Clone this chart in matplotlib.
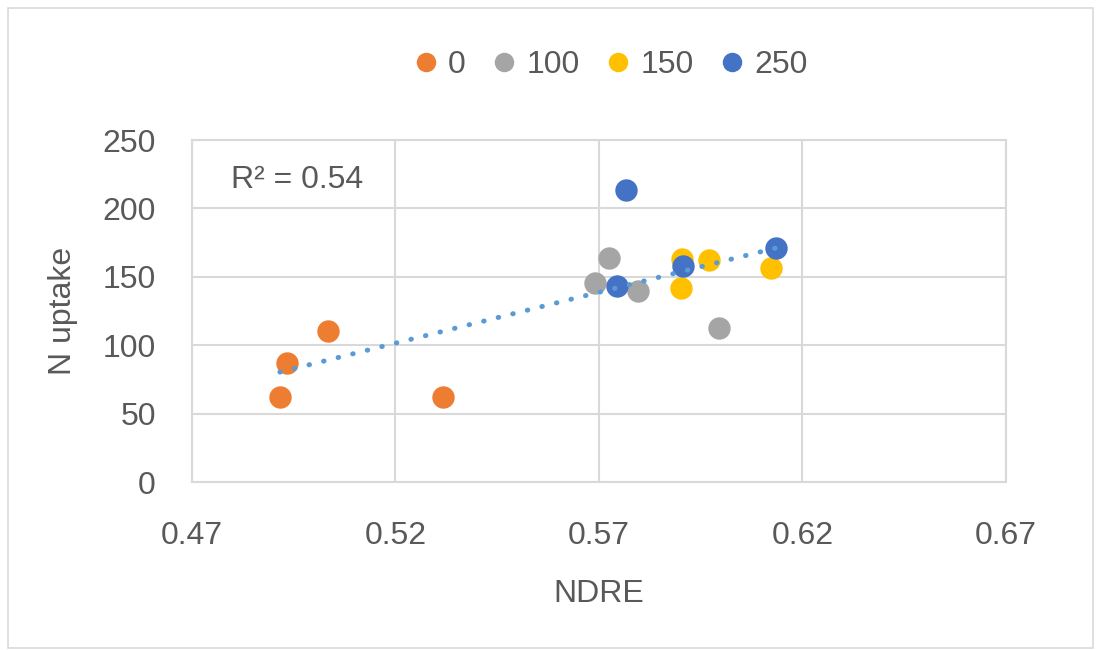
import matplotlib.pyplot as plt
from matplotlib.patches import Rectangle
from matplotlib.lines import Line2D
import numpy as np

# NDRE / N uptake per N rate group
groups = ["0", "100", "150", "250"]
colors = ["#ED7D31", "#A5A5A5", "#FFC000", "#4472C4"]
ndre = {
    "0":   [0.4916, 0.4934, 0.5033, 0.5316],
    "100": [0.5725, 0.5690, 0.5795, 0.5995],
    "150": [0.5905, 0.5901, 0.5970, 0.6123],
    "250": [0.5766, 0.5743, 0.5907, 0.6135],
}
uptake = {
    "0":   [62.4, 86.8, 110.6, 62.4],
    "100": [164.0, 145.2, 139.9, 112.8],
    "150": [163.0, 141.8, 162.3, 156.2],
    "250": [213.5, 143.5, 157.9, 171.3],
}
r2_label = "R² = 0.54"

plt.rcParams['font.family'] = ["Liberation Sans", "DejaVu Sans"]
txt = "#595959"
grid = "#D9D9D9"

fig = plt.figure(figsize=(10.97, 6.5), dpi=100)
ax = fig.add_axes([192 / 1097, 1 - 482 / 650, (1006 - 192) / 1097, (482 - 140) / 650])

for g, c in zip(groups, colors):
    ax.scatter(ndre[g], uptake[g], s=260, color=c, zorder=3, linewidths=0)

# linear trendline over all points
xs = np.concatenate([ndre[g] for g in groups])
ys = np.concatenate([uptake[g] for g in groups])
m, b = np.polyfit(xs, ys, 1)
xl = np.array([xs.min(), xs.max()])
ax.plot(xl, m * xl + b, color="#5B9BD5", linestyle=(0, (0.1, 2.9)),
        linewidth=3.6, dash_capstyle="round", zorder=4)

ax.set_xlim(0.47, 0.67)
ax.set_ylim(0, 250)
ax.set_xticks([0.47, 0.52, 0.57, 0.62, 0.67])
ax.set_xticklabels(["0.47", "0.52", "0.57", "0.62", "0.67"])
ax.set_yticks([0, 50, 100, 150, 200, 250])
ax.grid(True, color=grid, linewidth=1.5)
ax.set_axisbelow(True)
for s in ax.spines.values():
    s.set_color(grid)
    s.set_linewidth(1.5)
ax.tick_params(length=0, labelsize=23, labelcolor=txt)
ax.tick_params(axis='x', pad=28)
ax.tick_params(axis='y', pad=26)

ax.set_xlabel("NDRE", fontsize=23, color=txt, labelpad=20)
ax.set_ylabel("N uptake", fontsize=23, color=txt, labelpad=18)

ax.text(0.4958, 221, r2_label, fontsize=23, color=txt, ha="center", va="center")

handles = [Line2D([], [], marker="o", linestyle="", color=c, markersize=13) for c in colors]
fig.legend(handles, groups, loc="center", bbox_to_anchor=(607 / 1097, 1 - 65 / 650),
           ncol=4, frameon=False, fontsize=23, labelcolor=txt,
           handletextpad=0.1, columnspacing=0.6, handlelength=1.2)

fig.patches.append(Rectangle((8 / 1097, 2 / 650), 1085 / 1097, 640 / 650,
                             transform=fig.transFigure, fill=False,
                             edgecolor=grid, linewidth=1.2))

fig.savefig("out.png", dpi=100)
